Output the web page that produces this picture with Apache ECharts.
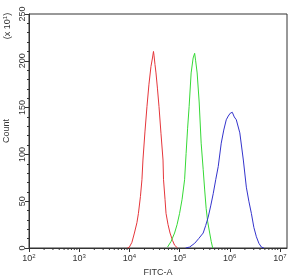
<!DOCTYPE html>
<html lang="en">
<head>
    <meta charset="UTF-8">
    <title>FITC-A histogram</title>
    <script src="https://cdn.jsdelivr.net/npm/echarts/dist/echarts.min.js"></script>
    <style>
        html, body { margin: 0; padding: 0; background: #fff; }
        #main { width: 301px; height: 275px; }
    </style>
</head>
<body>
    <div id="main"></div>
    <script>
        // x values are log10(FITC-A), y values are counts (x 10^1)
        var decades = [2, 3, 4, 5, 6, 7];
        var tickLabels = ['2', '3', '4', '5', '6', '7'];
        var yTicks = [0, 50, 100, 150, 200, 250];

        var redX = [3.96, 4.0, 4.05, 4.1, 4.15, 4.18, 4.22, 4.25, 4.27, 4.31, 4.35, 4.39, 4.43, 4.46, 4.48, 4.49, 4.51, 4.53, 4.56, 4.59, 4.63, 4.67, 4.68, 4.71, 4.73, 4.77, 4.81, 4.86, 4.9, 4.96];
        var redY = [0, 1, 6, 16, 27, 37, 55, 73, 94, 124, 151, 175, 194, 203, 210, 206, 196, 187, 170, 151, 122, 94, 73, 52, 37, 25, 16, 8, 3, 0];

        var greenX = [4.76, 4.83, 4.9, 4.95, 5.0, 5.05, 5.1, 5.13, 5.16, 5.19, 5.23, 5.27, 5.3, 5.32, 5.35, 5.39, 5.43, 5.47, 5.5, 5.53, 5.56, 5.6, 5.63, 5.66];
        var greenY = [1, 7, 16, 25, 37, 52, 73, 101, 128, 151, 187, 203, 208, 200, 187, 156, 112, 84, 62, 42, 28, 16, 7, 0];

        var blueX = [5.12, 5.2, 5.3, 5.38, 5.47, 5.52, 5.57, 5.62, 5.67, 5.72, 5.77, 5.83, 5.88, 5.93, 5.97, 6.01, 6.05, 6.09, 6.13, 6.2, 6.27, 6.33, 6.38, 6.43, 6.48, 6.53, 6.58, 6.63, 6.68];
        var blueY = [0, 1, 5, 10, 16, 24, 33, 45, 58, 73, 87, 112, 126, 137, 141, 144, 145, 140, 137, 123, 94, 65, 50, 37, 22, 12, 5, 1, 0];

        function pairs(xs, ys) {
            return xs.map(function (x, i) { return [x, ys[i]]; });
        }

        // minor log ticks (2..9 x 10^n)
        var minorTicks = [];
        for (var d = 2; d < 8; d++) {
            for (var k = 2; k <= 9; k++) {
                var v = d + Math.log10(k);
                if (v < 7.14) minorTicks.push([v]);
            }
        }

        var chart = echarts.init(document.getElementById('main'));
        var textColor = '#333';
        var font = 'Liberation Sans, Arial, sans-serif';

        var option = {
            animation: false,
            grid: {
                left: 29, right: 14, top: 14, bottom: 27,
                containLabel: false,
                outerBoundsMode: 'none',
                show: true, borderColor: '#333', borderWidth: 1
            },
            xAxis: {
                type: 'value',
                min: 2,
                max: 7.14,
                name: 'FITC-A',
                nameLocation: 'middle',
                nameGap: 20,
                nameTextStyle: { fontSize: 9, color: textColor, fontFamily: font },
                axisLine: { lineStyle: { color: '#333' } },
                axisTick: { customValues: decades, length: 4, inside: false, lineStyle: { color: '#333' } },
                splitLine: { show: false },
                axisLabel: {
                    customValues: decades,
                    margin: 5,
                    color: textColor,
                    fontFamily: font,
                    formatter: function (v) {
                        var i = decades.indexOf(v);
                        return '{b|10}{s|' + tickLabels[i] + '}';
                    },
                    rich: {
                        b: { fontSize: 9, color: textColor, fontFamily: font },
                        s: { fontSize: 6, color: textColor, fontFamily: font, padding: [0, 0, 5, 0] }
                    }
                }
            },
            yAxis: {
                type: 'value',
                min: 0,
                max: 250,
                interval: 50,
                name: 'Count',
                nameLocation: 'middle',
                nameRotate: 90,
                nameGap: 16,
                nameTextStyle: { fontSize: 9, color: textColor, fontFamily: font },
                axisLine: { show: true, lineStyle: { color: '#333' } },
                axisTick: { show: true, length: 4, lineStyle: { color: '#333' } },
                minorTick: { show: true, splitNumber: 5, length: 2, lineStyle: { color: '#333' } },
                splitLine: { show: false },
                axisLabel: {
                    rotate: 90,
                    margin: 6,
                    fontSize: 9,
                    color: textColor,
                    fontFamily: font,
                    verticalAlign: 'middle',
                    align: 'center'
                }
            },
            graphic: [{
                type: 'text',
                x: 8,
                y: 26,
                rotation: Math.PI / 2,
                style: {
                    text: '(x 10{s|1})',
                    fontSize: 9,
                    fill: textColor,
                    fontFamily: font,
                    align: 'center',
                    verticalAlign: 'middle',
                    rich: {
                        s: { fontSize: 6, fill: textColor, fontFamily: font, padding: [0, 0, 5, 0] }
                    }
                }
            }],
            series: [
                {
                    type: 'custom',
                    silent: true,
                    clip: false,
                    data: minorTicks,
                    renderItem: function (params, api) {
                        var p = api.coord([api.value(0), 0]);
                        return {
                            type: 'line',
                            shape: { x1: p[0], y1: p[1], x2: p[0], y2: p[1] + 2 },
                            style: { stroke: '#333', lineWidth: 1 }
                        };
                    }
                },
                {
                    type: 'line', data: pairs(redX, redY), showSymbol: false,
                    lineStyle: { color: '#e5363b', width: 1 }
                },
                {
                    type: 'line', data: pairs(greenX, greenY), showSymbol: false,
                    lineStyle: { color: '#36d936', width: 1 }
                },
                {
                    type: 'line', data: pairs(blueX, blueY), showSymbol: false,
                    lineStyle: { color: '#3434cc', width: 1 }
                }
            ]
        };

        chart.setOption(option);
    </script>
</body>
</html>
